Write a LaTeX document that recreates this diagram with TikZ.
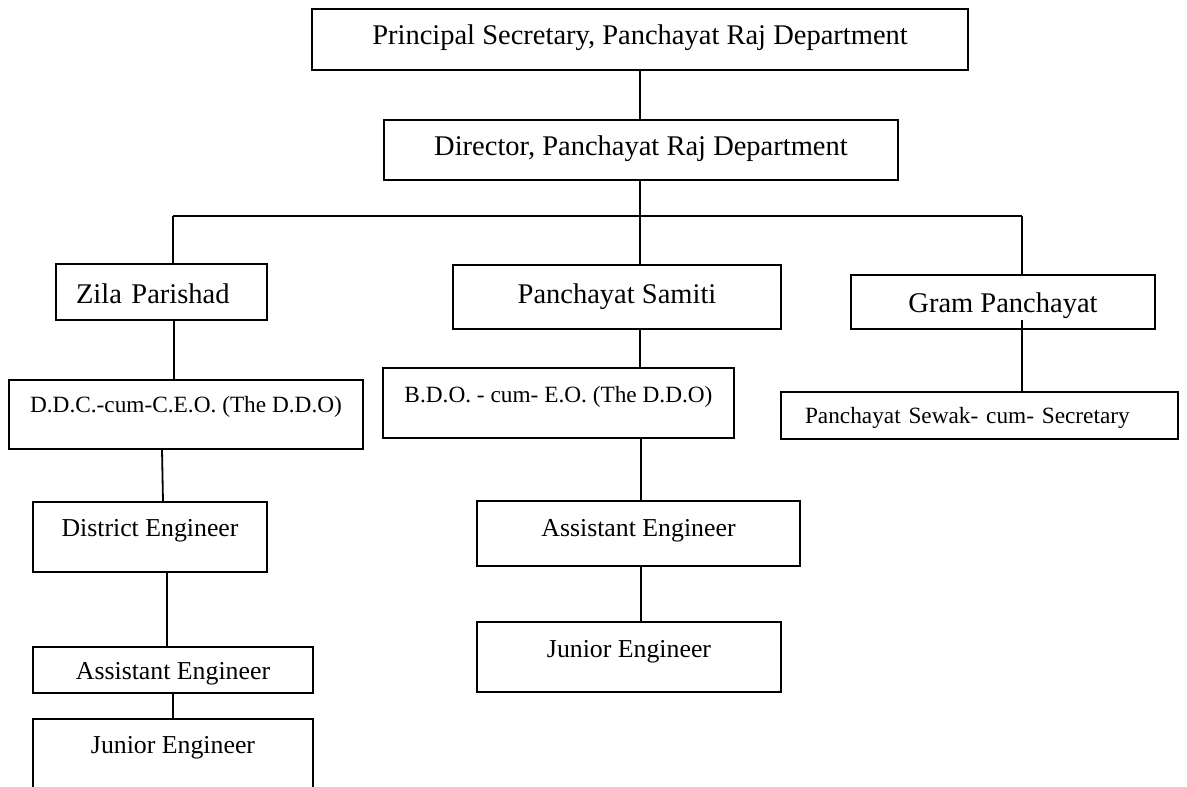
\documentclass[tikz,border=0pt]{standalone}
\usepackage{fontspec}
\setmainfont{Liberation Serif}
\tikzset{
  orgbox/.style={draw, line width=1.8pt, inner sep=0pt, outer sep=0pt, text height=0pt, text depth=0pt},
  bigtxt/.style={font=\fontsize{28.5}{32}\selectfont},
  midtxt/.style={font=\fontsize{25.8}{30}\selectfont},
  smalltxt/.style={font=\fontsize{23.3}{27}\selectfont},
  link/.style={line width=1.8pt},
}
\begin{document}
\begin{tikzpicture}[x=1pt,y=-1pt]
\clip (0,0) rectangle (1187,787);
\fill[white] (0,0) rectangle (1187,787);

% top levels
\node[orgbox,bigtxt,minimum width=656pt,minimum height=61pt,text height=9pt] (P) at (640,39.5) {Principal Secretary, Panchayat Raj Department};
\node[orgbox,bigtxt,minimum width=514pt,minimum height=60pt,text height=10pt] (D) at (641,150) {Director, Panchayat Raj Department};

% second level
\node[orgbox,bigtxt,minimum width=211pt,minimum height=56pt,text height=22pt,text width=171pt,align=left] (Z) at (161.5,292) {Zila Parishad};
\node[orgbox,bigtxt,minimum width=328pt,minimum height=64pt,text height=12pt] (S) at (617,297) {Panchayat Samiti};
\node[orgbox,bigtxt,minimum width=304pt,minimum height=54pt,text height=20pt] (G) at (1003,302) {Gram Panchayat};

% third level
\node[orgbox,smalltxt,minimum width=354pt,minimum height=69pt,text depth=5pt] (DDC) at (186,414.5) {D.D.C.-cum-C.E.O. (The D.D.O)};
\node[orgbox,smalltxt,minimum width=351pt,minimum height=70pt,text depth=2pt] (BDO) at (558.5,403) {B.D.O. - cum- E.O. (The D.D.O)};
\node[orgbox,smalltxt,minimum width=397pt,minimum height=47pt,text height=15pt,text width=349pt,align=left] (Sw) at (979.5,415.5) {Panchayat Sewak- cum- Secretary};

% engineers
\node[orgbox,midtxt,minimum width=234pt,minimum height=70pt,text depth=2pt] (DE) at (150,537) {District Engineer};
\node[orgbox,midtxt,minimum width=323pt,minimum height=65pt,text height=5pt] (AER) at (638.5,533.5) {Assistant Engineer};
\node[orgbox,midtxt,minimum width=304pt,minimum height=70pt] (JER) at (629,657) {Junior Engineer};
\node[orgbox,midtxt,minimum width=280pt,minimum height=46pt,text height=18pt] (AEL) at (173,670) {Assistant Engineer};
\node[orgbox,midtxt,minimum width=280pt,minimum height=100pt,text depth=32pt] (JEL) at (173,769) {Junior Engineer};

% connectors
\coordinate (barL) at (173,216);
\coordinate (barR) at (1022,216);
\coordinate (barM) at (640,216);
\draw[link] (P.south) -- (P.south |- D.north);
\draw[link] (barM |- D.south) -- (barM);
\draw[link] (barL) -- (barR);
\draw[link] (barL) -- (barL |- Z.north);
\draw[link] (barM) -- (barM |- S.north);
\draw[link] (barR) -- (barR |- G.north);

\draw[link] ([xshift=1pt]barL |- Z.south) -- ([xshift=1pt]barL |- DDC.north);
\draw[link] ([xshift=-24pt]DDC.south) -- ([xshift=13pt]DE.north);
\draw[link] ([xshift=17pt]DE.south) -- ([xshift=17pt]DE.south |- AEL.north);
\draw[link] (AEL.south) -- (JEL.north);

\draw[link] (barM |- S.south) -- (barM |- BDO.north);
\draw[link] ([xshift=2.5pt]AER.north |- BDO.south) -- ([xshift=2.5pt]AER.north);
\draw[link] ([xshift=2.5pt]AER.south) -- ([xshift=2.5pt]AER.south |- JER.north);

\coordinate (gs) at (barR |- G.south);
\draw[link] ([yshift=9pt]gs) -- (gs |- Sw.north);
\end{tikzpicture}
\end{document}
